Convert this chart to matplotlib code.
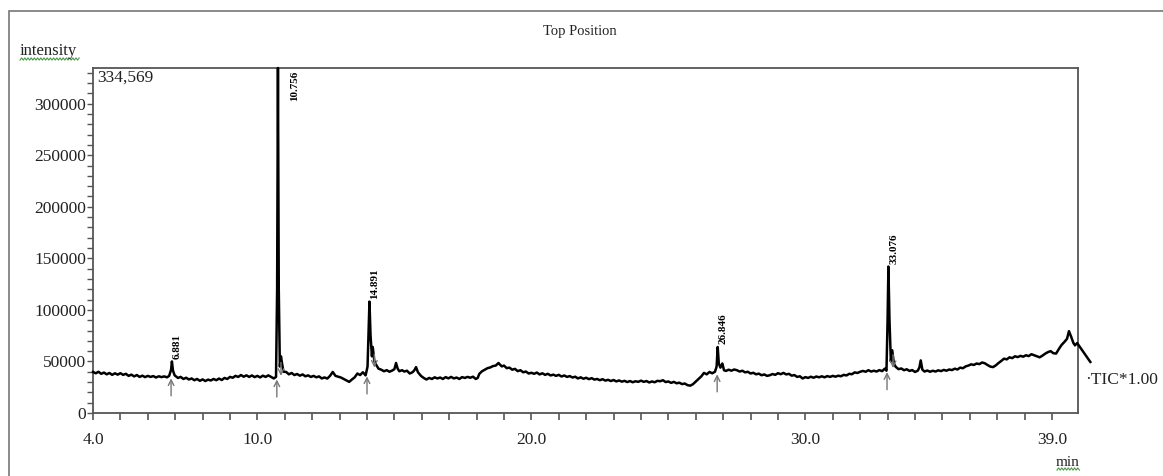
import numpy as np
import matplotlib
matplotlib.use('Agg')
import matplotlib.pyplot as plt
from matplotlib.lines import Line2D
from matplotlib.patches import Rectangle
from matplotlib.ticker import FixedLocator, MultipleLocator

plt.rcParams['font.family'] = ['Liberation Serif', 'DejaVu Serif']

# retention time (min) and intensity (x1000 counts)
rt = [
    4.00, 4.10, 4.20, 4.30, 4.40, 4.50, 4.60, 4.70, 4.80, 4.90,
    5.00, 5.10, 5.20, 5.30, 5.40, 5.50, 5.60, 5.70, 5.80, 5.90,
    6.00, 6.10, 6.20, 6.30, 6.40, 6.50, 6.60, 6.70, 6.78, 6.85,
    6.88, 6.92, 6.98, 7.10, 7.20, 7.30, 7.40, 7.50, 7.60, 7.70,
    7.80, 7.90, 8.00, 8.10, 8.20, 8.30, 8.40, 8.50, 8.60, 8.70,
    8.80, 8.90, 9.00, 9.10, 9.20, 9.30, 9.40, 9.50, 9.60, 9.70,
    9.80, 9.90, 10.00, 10.10, 10.20, 10.30, 10.40, 10.50, 10.60, 10.68,
    10.72, 10.75, 10.78, 10.82, 10.86, 10.90, 10.95, 11.05, 11.15, 11.25,
    11.35, 11.45, 11.55, 11.65, 11.75, 11.85, 11.95, 12.05, 12.15, 12.25,
    12.35, 12.45, 12.55, 12.65, 12.75, 12.85, 12.95, 13.05, 13.15, 13.25,
    13.35, 13.45, 13.55, 13.65, 13.75, 13.85, 13.95, 14.02, 14.06, 14.09,
    14.13, 14.18, 14.21, 14.27, 14.33, 14.42, 14.52, 14.62, 14.72, 14.82,
    14.92, 15.00, 15.06, 15.12, 15.18, 15.28, 15.36, 15.46, 15.56, 15.66,
    15.73, 15.79, 15.86, 15.97, 16.07, 16.17, 16.27, 16.37, 16.47, 16.57,
    16.67, 16.77, 16.87, 16.97, 17.07, 17.17, 17.27, 17.37, 17.47, 17.57,
    17.67, 17.77, 17.87, 17.97, 18.04, 18.10, 18.20, 18.30, 18.40, 18.50,
    18.60, 18.70, 18.80, 18.85, 18.92, 19.00, 19.10, 19.20, 19.30, 19.40,
    19.50, 19.60, 19.70, 19.80, 19.90, 20.00, 20.10, 20.20, 20.30, 20.40,
    20.50, 20.60, 20.70, 20.80, 20.90, 21.00, 21.10, 21.20, 21.30, 21.40,
    21.50, 21.60, 21.70, 21.80, 21.90, 22.00, 22.10, 22.20, 22.30, 22.40,
    22.50, 22.60, 22.70, 22.80, 22.90, 23.00, 23.10, 23.20, 23.30, 23.40,
    23.50, 23.60, 23.70, 23.80, 23.90, 24.00, 24.10, 24.20, 24.30, 24.40,
    24.50, 24.60, 24.70, 24.80, 24.90, 25.00, 25.10, 25.20, 25.30, 25.40,
    25.50, 25.60, 25.70, 25.80, 25.90, 26.00, 26.10, 26.20, 26.30, 26.40,
    26.50, 26.60, 26.70, 26.76, 26.80, 26.84, 26.90, 26.97, 27.03, 27.10,
    27.20, 27.30, 27.40, 27.50, 27.60, 27.70, 27.80, 27.90, 28.00, 28.10,
    28.20, 28.30, 28.40, 28.50, 28.60, 28.70, 28.80, 28.90, 29.00, 29.10,
    29.20, 29.30, 29.40, 29.50, 29.60, 29.70, 29.80, 29.90, 30.00, 30.10,
    30.20, 30.30, 30.40, 30.50, 30.60, 30.70, 30.80, 30.90, 31.00, 31.10,
    31.20, 31.30, 31.40, 31.50, 31.60, 31.70, 31.80, 31.90, 32.00, 32.10,
    32.20, 32.30, 32.40, 32.50, 32.60, 32.70, 32.80, 32.90, 32.96, 33.00,
    33.03, 33.07, 33.12, 33.17, 33.23, 33.30, 33.40, 33.50, 33.60, 33.70,
    33.80, 33.90, 34.00, 34.10, 34.16, 34.21, 34.27, 34.35, 34.45, 34.55,
    34.65, 34.75, 34.85, 34.95, 35.05, 35.15, 35.25, 35.35, 35.45, 35.55,
    35.65, 35.75, 35.85, 35.95, 36.05, 36.15, 36.25, 36.35, 36.45, 36.55,
    36.65, 36.75, 36.85, 36.95, 37.05, 37.15, 37.25, 37.35, 37.45, 37.55,
    37.65, 37.75, 37.85, 37.95, 38.05, 38.15, 38.25, 38.35, 38.45, 38.55,
    38.65, 38.75, 38.85, 38.95, 39.05, 39.15, 39.25, 39.35, 39.45, 39.55,
    39.62, 39.70, 39.78, 39.84, 39.92, 40.40,
]
intensity_k = [
    39.8, 38.5, 40.0, 38.0, 39.2, 37.5, 38.8, 37.0, 38.5, 37.2,
    38.6, 37.0, 38.0, 36.0, 37.2, 35.5, 36.8, 35.0, 36.2, 34.8,
    36.0, 35.0, 35.8, 34.4, 35.6, 34.8, 35.5, 34.6, 36.0, 42.0,
    50.0, 41.0, 36.5, 34.0, 35.0, 33.0, 34.2, 32.5, 33.5, 31.8,
    33.0, 31.2, 32.6, 31.0, 32.4, 31.5, 33.0, 31.8, 33.4, 32.0,
    34.0, 33.0, 35.0, 34.2, 36.0, 35.0, 36.8, 35.2, 36.5, 35.0,
    36.4, 34.8, 36.0, 34.5, 36.2, 35.0, 36.5, 35.0, 33.5, 35.0,
    120.0, 334.569, 120.0, 45.0, 55.0, 48.0, 40.0, 39.8, 37.5, 38.8,
    36.8, 37.8, 36.2, 37.4, 35.6, 36.5, 35.0, 36.0, 34.6, 35.5,
    33.5, 34.5, 33.4, 36.0, 39.8, 36.0, 35.2, 34.4, 33.0, 31.5,
    30.2, 32.5, 34.6, 38.3, 36.8, 39.5, 36.5, 45.0, 80.0, 108.0,
    75.0, 55.0, 64.0, 50.0, 47.0, 43.0, 42.0, 40.5, 41.5, 40.0,
    41.2, 42.5, 48.5, 43.0, 40.5, 41.5, 40.2, 41.0, 38.3, 39.5,
    41.5, 44.5, 39.5, 36.0, 34.0, 32.5, 34.0, 33.0, 34.6, 33.5,
    34.4, 33.0, 34.8, 33.6, 35.0, 33.5, 34.4, 33.0, 34.8, 34.0,
    35.0, 34.2, 35.2, 33.0, 34.0, 38.0, 40.5, 42.0, 43.5, 44.2,
    45.5, 46.0, 48.5, 47.0, 45.2, 46.0, 43.5, 44.0, 42.0, 42.8,
    40.6, 41.5, 39.5, 40.2, 38.3, 39.0, 38.0, 39.2, 37.4, 38.5,
    37.0, 38.0, 36.4, 37.2, 36.0, 37.0, 35.4, 36.4, 35.0, 35.8,
    34.4, 35.2, 33.5, 34.6, 33.2, 34.2, 32.8, 33.8, 32.4, 33.0,
    31.8, 32.8, 31.4, 32.2, 31.0, 32.0, 30.6, 31.6, 30.4, 31.2,
    30.0, 31.0, 29.8, 30.8, 30.2, 31.4, 30.2, 31.0, 29.6, 30.6,
    29.8, 31.2, 30.8, 31.8, 30.0, 30.6, 29.2, 30.2, 28.8, 29.4,
    28.0, 28.6, 27.0, 26.5, 28.0, 30.5, 33.0, 35.5, 38.9, 37.5,
    39.8, 38.5, 40.0, 45.0, 64.0, 48.0, 44.0, 48.0, 41.5, 40.8,
    42.0, 41.0, 42.2, 41.5, 40.2, 41.0, 39.4, 40.0, 38.3, 39.0,
    37.5, 38.2, 36.6, 37.4, 36.0, 36.6, 37.8, 37.0, 38.6, 37.6,
    38.9, 37.4, 38.0, 36.2, 36.8, 35.0, 35.6, 33.5, 34.8, 34.0,
    35.2, 34.2, 35.4, 34.6, 35.6, 34.6, 35.8, 35.0, 36.0, 35.2,
    36.2, 35.6, 37.0, 36.4, 38.0, 37.6, 39.4, 38.8, 40.0, 40.8,
    40.0, 41.5, 40.2, 41.0, 40.2, 41.6, 40.6, 43.0, 41.0, 90.0,
    142.0, 90.0, 50.0, 60.8, 48.0, 44.7, 42.5, 43.2, 41.5, 42.4,
    40.8, 41.6, 39.8, 41.0, 44.0, 51.0, 42.0, 40.2, 41.2, 40.0,
    41.0, 40.2, 41.4, 40.6, 41.8, 41.0, 42.2, 41.6, 43.0, 42.2,
    44.0, 43.4, 45.2, 46.0, 47.2, 46.6, 48.0, 47.4, 49.0, 48.2,
    46.5, 45.0, 44.5, 46.2, 48.5, 50.5, 52.7, 52.0, 54.0, 53.2,
    55.0, 54.2, 55.4, 54.6, 56.0, 55.2, 57.0, 56.0, 55.0, 54.0,
    55.6, 57.5, 59.0, 60.0, 58.0, 57.6, 62.0, 66.0, 68.8, 72.0,
    79.4, 74.0, 68.0, 65.6, 67.8, 49.5,
]

# peaks: label text, apex position on the time axis, apex height (x1000)
peak_labels = ['6.881', '10.756', '14.891', '26.846', '33.076']
peak_rt = [6.88, 10.75, 14.09, 26.80, 33.03]
peak_height_k = [50.0, 334.569, 108.0, 64.0, 142.0]

# integration markers: start (arrow up) and end (arrow down)
start_rt = [6.85, 10.71, 14.00, 26.78, 32.98]
end_rt = [10.86, 14.27, 33.20]

x_ticks = [4.0, 10.0, 20.0, 30.0, 39.0]
y_ticks = [0, 50000, 100000, 150000, 200000, 250000, 300000]
y_max = 334569
x_min, x_max = 4.0, 39.95

W, H = 1163, 476
fig = plt.figure(figsize=(W / 100, H / 100), dpi=100)
ax = fig.add_axes([93 / W, 1 - 413 / H, (1078 - 93) / W, (413 - 68) / H])

t = np.array(rt)
y = np.array(intensity_k) * 1000
ax.plot(t, y, color='black', lw=1.8, clip_on=False, zorder=3)

ax.set_xlim(x_min, x_max)
ax.set_ylim(0, y_max)

ax.xaxis.set_major_locator(FixedLocator(x_ticks))
ax.xaxis.set_minor_locator(MultipleLocator(1.0))
ax.set_xticklabels([f'{v:.1f}' for v in x_ticks])
ax.yaxis.set_major_locator(FixedLocator(y_ticks))
ax.yaxis.set_minor_locator(MultipleLocator(10000))
ax.set_yticklabels([str(v) for v in y_ticks])

ax.tick_params(axis='x', which='both', direction='out', length=5, width=1.2,
               color='#555555', labelsize=12.5, pad=9, labelcolor='#222222')
ax.tick_params(axis='y', which='both', direction='out', length=4, width=1.0,
               color='#555555', labelsize=12.5, pad=1, labelcolor='#222222')
for s in ax.spines.values():
    s.set_color('#555555')
    s.set_linewidth(1.3)

# peak labels
for lab, pr, ph in zip(peak_labels, peak_rt, peak_height_k):
    ph = ph * 1000
    if ph >= y_max * 0.95:
        ax.annotate(lab, xy=(pr, y_max), xytext=(12, -2), textcoords='offset points',
                    rotation=90, ha='center', va='top', fontsize=8, fontweight='bold')
    else:
        ax.annotate(lab, xy=(pr, ph), xytext=(4, 2), textcoords='offset points',
                    rotation=90, ha='center', va='bottom', fontsize=8, fontweight='bold')


def local_base(tc):
    # lowest point of the trace around a marker
    near = (t > tc - 0.2) & (t < tc + 0.2)
    return y[near].min()


# integration markers, placed relative to the local baseline
for st in start_rt:
    base = local_base(st)
    ax.annotate('', xy=(st, base - 1000), xytext=(st, base - 18000),
                arrowprops=dict(arrowstyle='->', color='#777777', lw=1.0,
                                shrinkA=0, shrinkB=0))
for en in end_rt:
    base = local_base(en)
    ax.annotate('', xy=(en, base + 1000), xytext=(en, base + 14000),
                arrowprops=dict(arrowstyle='->', color='#777777', lw=1.0,
                                shrinkA=0, shrinkB=0))

ax.text(0.004, 0.995, '334,569', transform=ax.transAxes, ha='left', va='top',
        fontsize=12.5, color='#222222')
ax.text(40.22, 31800, '\u00b7TIC*1.00', ha='left', va='center', fontsize=12.5,
        color='#222222', clip_on=False)

# outer frame and header
fig.add_artist(Rectangle((9 / W, -0.1), 1.2, 1 - 11 / H + 0.1, transform=fig.transFigure,
                         fill=False, edgecolor='#777777', lw=1.2))
fig.text(580 / W, 1 - 32 / H, 'Top Position', ha='center', va='center',
         fontsize=10.5, color='#222222')
fig.text(20 / W, 1 - 51 / H, 'intensity', ha='left', va='center',
         fontsize=12, color='#222222')
fig.text(1068 / W, 1 - 462 / H, 'min', ha='center', va='center',
         fontsize=11, color='#222222')


def squiggle(x0, x1, yp):
    xs = np.arange(x0, x1 + 0.1, 1.6)
    ys = yp + 1.1 * (-1) ** np.arange(len(xs))
    fig.add_artist(Line2D(xs / W, 1 - ys / H, transform=fig.transFigure,
                          color='#4a9a4a', lw=0.8))


squiggle(20, 80, 59)
squiggle(1057, 1080, 469)

fig.savefig('out.png', dpi=100)
